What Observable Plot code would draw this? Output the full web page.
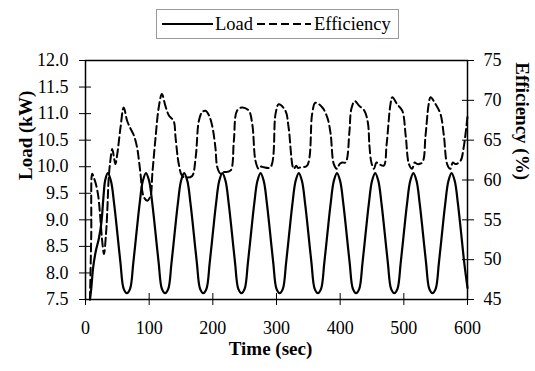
<!DOCTYPE html>
<html><head><meta charset="utf-8">
<script src="https://cdn.jsdelivr.net/npm/d3@7"></script>
<script src="https://cdn.jsdelivr.net/npm/@observablehq/plot@0.6"></script>
<style>
body{margin:0;background:#fff;font-family:"Liberation Serif","Times New Roman",serif;color:#000;}
#wrap{width:535px;}
#legend{height:44px;position:relative;}
#legend .box{position:absolute;left:156px;top:9px;width:243px;height:30px;border:1px solid #999;box-sizing:border-box;display:flex;align-items:center;font-size:18.5px;white-space:nowrap;}
#legend svg{display:block;}
</style>
</head><body>
<div id="wrap">
  <div id="legend"><div class="box">
    <svg width="51" height="10" style="margin-left:5px"><line x1="0" y1="5" x2="51" y2="5" stroke="#000" stroke-width="2"/></svg>
    <span style="margin-left:2px">Load</span>
    <svg width="54" height="10" style="margin-left:4px"><line x1="0" y1="5" x2="54" y2="5" stroke="#000" stroke-width="2" stroke-dasharray="8,4"/></svg>
    <span style="margin-left:3px">Efficiency</span>
  </div></div>
  <div id="chart"></div>
</div>
<script>
// Tick values
const xTicks = [0, 100, 200, 300, 400, 500, 600];
const loadTicks = [7.5, 8.0, 8.5, 9.0, 9.5, 10.0, 10.5, 11.0, 11.5, 12.0];
const effTicks = [45, 50, 55, 60, 65, 70, 75];

// Load (kW) series
const loadTime = [7, 9, 12, 16, 21, 25, 28, 31, 35,
  40, 45, 50, 55, 60, 65, 70, 75, 80, 85, 90, 95,
  100, 105, 110, 115, 120, 125, 130, 135, 140, 145, 150, 155,
  160, 165, 170, 175, 180, 185, 190, 195, 200, 205, 210, 215,
  220, 225, 230, 235, 240, 245, 250, 255, 260, 265, 270, 275,
  280, 285, 290, 295, 300, 305, 310, 315, 320, 325, 330, 335,
  340, 345, 350, 355, 360, 365, 370, 375, 380, 385, 390, 395,
  400, 405, 410, 415, 420, 425, 430, 435, 440, 445, 450, 455,
  460, 465, 470, 475, 480, 485, 490, 495, 500, 505, 510, 515,
  520, 525, 530, 535, 540, 545, 550, 555, 560, 565, 570, 575,
  580, 585, 590, 595, 600];
const loadValue = [7.50, 7.70, 8.10, 8.40, 8.65, 8.95, 9.40, 9.75, 9.88,
  9.73, 9.30, 8.75, 8.18, 7.70, 7.62, 7.70, 8.18, 8.75, 9.30, 9.73, 9.88,
  9.73, 9.30, 8.75, 8.18, 7.70, 7.62, 7.70, 8.18, 8.75, 9.30, 9.73, 9.88,
  9.73, 9.30, 8.75, 8.18, 7.70, 7.62, 7.70, 8.18, 8.75, 9.30, 9.73, 9.88,
  9.73, 9.30, 8.75, 8.18, 7.70, 7.62, 7.70, 8.18, 8.75, 9.30, 9.73, 9.88,
  9.73, 9.30, 8.75, 8.18, 7.70, 7.62, 7.70, 8.18, 8.75, 9.30, 9.73, 9.88,
  9.73, 9.30, 8.75, 8.18, 7.70, 7.62, 7.70, 8.18, 8.75, 9.30, 9.73, 9.88,
  9.73, 9.30, 8.75, 8.18, 7.70, 7.62, 7.70, 8.18, 8.75, 9.30, 9.73, 9.88,
  9.73, 9.30, 8.75, 8.18, 7.70, 7.62, 7.70, 8.18, 8.75, 9.30, 9.73, 9.88,
  9.73, 9.30, 8.75, 8.18, 7.70, 7.62, 7.70, 8.18, 8.75, 9.30, 9.73, 9.88,
  9.73, 9.30, 8.75, 8.18, 7.72];

// Efficiency (%) series
const effTime = [7, 9, 10.5, 13, 16, 20, 23.5, 26, 29, 32, 34, 36.5, 39, 42, 45, 47, 50, 55, 60,
  65.5, 71, 76, 81, 84, 86.5, 89, 92, 97, 102, 105, 110, 115, 120,
  125.5, 131, 138.5, 141.5, 146.5, 152, 160, 167.5, 173, 178, 183, 188.5,
  194, 199, 204, 207, 212, 216, 220, 228, 233, 238, 246,
  256.5, 262, 267, 272, 276, 280, 290.5, 298.5, 303.5,
  314, 319, 327, 331, 334, 338, 348, 356, 361,
  372, 380, 385, 390, 395, 399, 403, 408.5, 414.5, 417.5, 423,
  430, 438, 443.5, 446, 449, 453, 457, 461, 468.5, 473, 479, 482,
  489.5, 497.5, 503, 508, 513, 517, 521, 529, 534, 539, 542,
  550, 557.5, 563, 568, 573, 577, 581, 589, 594, 600];
const effValue = [45.0, 53.0, 60.8, 60.3, 59.6, 58.0, 55.0, 52.5, 50.7, 53.0, 55.7, 60.3, 62.4, 63.9, 62.7, 62.0, 63.3, 66.6, 69.1,
  67.4, 66.4, 65.6, 64.1, 62.4, 60.7, 58.7, 57.8, 57.4, 58.0, 60.8, 65.3, 69.1, 70.8,
  69.3, 68.1, 67.4, 65.3, 62.0, 60.5, 60.3, 60.5, 62.8, 67.4, 68.5, 68.7,
  68.1, 66.8, 64.1, 61.6, 60.8, 61.0, 61.0, 61.2, 64.9, 68.7, 69.1,
  68.7, 67.0, 62.4, 61.4, 61.7, 61.6, 61.6, 68.3, 69.5,
  68.7, 66.6, 61.4, 61.8, 61.5, 61.6, 61.8, 68.3, 69.7,
  69.1, 67.8, 65.8, 62.0, 61.4, 62.0, 62.2, 62.2, 66.0, 68.9, 69.9,
  69.3, 68.7, 67.2, 64.3, 62.2, 61.4, 62.2, 62.0, 61.8, 64.5, 69.5, 70.4,
  69.5, 68.7, 65.5, 62.0, 61.4, 62.2, 62.0, 62.2, 65.5, 69.5, 70.4,
  69.5, 68.3, 65.5, 62.0, 61.4, 62.2, 62.0, 62.4, 64.1, 68.0];

const loadRows = loadTime.map((t, i) => ({t, v: loadValue[i]}));
const effRows = effTime.map((t, i) => ({t, v: effValue[i]}));

// map efficiency (45..75) onto the load scale (7.5..12)
const toLoad = e => 7.5 + (e - 45) * (4.5 / 30);
const toEff = l => 45 + (l - 7.5) * (30 / 4.5);

const chart = Plot.plot({
  width: 535,
  height: 327,
  marginLeft: 85,
  marginRight: 68,
  marginTop: 16,
  marginBottom: 72,
  style: {fontFamily: '"Liberation Serif","Times New Roman",serif', fontSize: "18px", color: "#000", background: "#fff"},
  x: {domain: [0, 600]},
  y: {domain: [7.5, 12]},
  marks: [
    Plot.frame({stroke: "#000", strokeWidth: 1.5}),
    Plot.axisX(xTicks, {tickSize: 12, dy: -6, tickFormat: () => "", label: null}),
    Plot.axisX(xTicks, {tickSize: 0, tickPadding: 22, tickFormat: d => String(d), label: null}),
    Plot.axisY(loadTicks, {anchor: "left", tickSize: 12, dx: 6, tickFormat: () => "", label: null}),
    Plot.axisY(loadTicks, {anchor: "left", tickSize: 0, tickPadding: 17, tickFormat: d => d.toFixed(1), label: null}),
    Plot.axisY(effTicks.map(toLoad), {anchor: "right", tickSize: 12, dx: -6, tickFormat: () => "", label: null}),
    Plot.axisY(effTicks.map(toLoad), {anchor: "right", tickSize: 0, tickPadding: 16, tickFormat: d => String(Math.round(toEff(d))), label: null}),
    Plot.line(effRows, {x: "t", y: d => toLoad(d.v), stroke: "#000", strokeWidth: 2, strokeDasharray: "8,4", curve: "catmull-rom"}),
    Plot.line(loadRows, {x: "t", y: "v", stroke: "#000", strokeWidth: 2.2, curve: "catmull-rom"}),
    Plot.text(["Load (kW)"], {frameAnchor: "left", dx: -60, rotate: -90, fontWeight: "bold", fontSize: 19, fill: "#000"}),
    Plot.text(["Efficiency (%)"], {frameAnchor: "right", dx: 55, rotate: 90, fontWeight: "bold", fontSize: 19, fill: "#000"}),
    Plot.text(["Time (sec)"], {frameAnchor: "bottom", dx: -6, dy: 55, fontWeight: "bold", fontSize: 19, fill: "#000"})
  ]
});
document.getElementById("chart").appendChild(chart);
</script>
</body></html>
